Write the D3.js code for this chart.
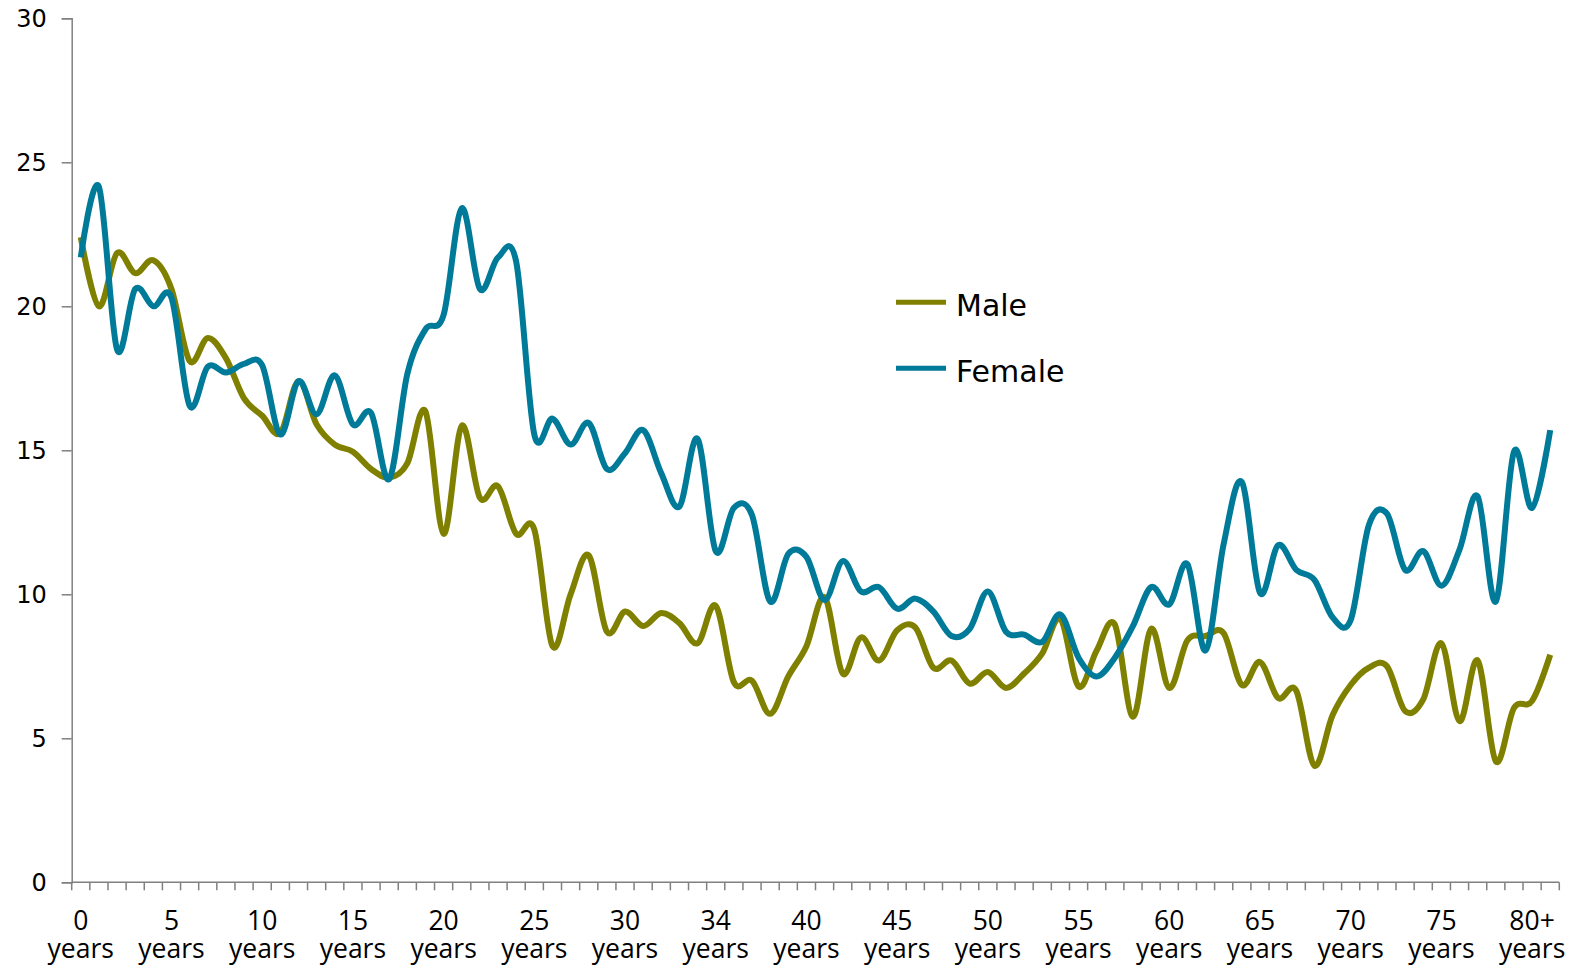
<!DOCTYPE html>
<html>
<head>
<meta charset="utf-8">
<script src="https://cdn.jsdelivr.net/npm/d3@7"></script>
<style>
  body { margin: 0; background: #fff; }
  .axis-y text { font-family: "DejaVu Sans", sans-serif; font-size: 24px; fill: #000; }
  .axis-x text { font-family: "Open Sans", sans-serif; font-size: 26.5px; fill: #000; }
  .legend text { font-family: "DejaVu Sans", sans-serif; font-size: 30px; fill: #000; }
</style>
</head>
<body>
<svg id="chart" width="1577" height="973"></svg>
<script>
// shown under every 5th category (the source labels the 35th one "34")
var tickLabels = ["0", "5", "10", "15", "20", "25", "30", "34", "40", "45",
                  "50", "55", "60", "65", "70", "75", "80+"];
var tickUnit = "years";

var male = [22.4, 20.0, 21.85, 21.15, 21.6, 20.6, 18.1, 18.9, 18.2, 16.8,
            16.2, 15.6, 17.4, 15.9, 15.2, 14.95, 14.35, 14.05, 14.55, 16.35,
            12.1, 15.85, 13.35, 13.75, 12.1, 12.25, 8.2, 10.0, 11.35, 8.7,
            9.4, 8.9, 9.35, 9.0, 8.3, 9.6, 6.95, 7.0, 5.85, 7.15,
            8.2, 9.9, 7.25, 8.5, 7.7, 8.75, 8.85, 7.45, 7.7, 6.9,
            7.3, 6.75, 7.25, 7.95, 9.15, 6.8, 8.05, 8.95, 5.75, 8.8,
            6.75, 8.4, 8.55, 8.65, 6.85, 7.65, 6.4, 6.65, 4.05, 5.8,
            6.85, 7.45, 7.5, 5.95, 6.35, 8.3, 5.6, 7.7, 4.2, 6.05,
            6.3, 7.9];

var female = [21.7, 24.15, 18.5, 20.6, 20.0, 20.3, 16.55, 17.9, 17.7, 18.0,
              17.95, 15.55, 17.4, 16.25, 17.6, 15.9, 16.3, 14.0, 17.65, 19.2,
              19.7, 23.4, 20.6, 21.7, 21.55, 15.55, 16.1, 15.2, 15.95, 14.35,
              14.9, 15.7, 14.2, 13.05, 15.4, 11.5, 13.0, 12.75, 9.75, 11.4,
              11.3, 9.8, 11.15, 10.1, 10.25, 9.5, 9.85, 9.4, 8.55, 8.8,
              10.1, 8.7, 8.6, 8.35, 9.3, 7.8, 7.15, 7.8, 8.9, 10.25,
              9.65, 11.05, 8.05, 11.75, 13.9, 10.05, 11.7, 10.85, 10.5, 9.2,
              9.1, 12.4, 12.8, 10.85, 11.5, 10.3, 11.55, 13.4, 9.75, 14.95,
              13.0, 15.7];

var seriesNames = ["Male", "Female"];
var seriesColors = ["#808000", "#007a99"];

(function () {

    var svg = d3.select("#chart"),
        plot = { left: 71.7, right: 1559.3, top: 18.3, bottom: 882.3 };

    var x = d3.scaleBand().domain(d3.range(male.length)).range([plot.left, plot.right]),
        y = d3.scaleLinear().domain([0, 30]).range([plot.bottom, plot.top]);

    function cx(i) { return x(i) + x.bandwidth() / 2; }

    // y axis
    var yAxis = svg.append("g")
        .attr("class", "axis-y")
        .attr("transform", "translate(" + plot.left + ",0)")
        .call(d3.axisLeft(y).tickValues([0, 5, 10, 15, 20, 25, 30]).tickSize(10).tickPadding(15));
    yAxis.select(".domain").attr("stroke", "#808080").attr("stroke-width", 1.5);
    yAxis.selectAll(".tick line").attr("stroke", "#808080").attr("stroke-width", 1.5);
    yAxis.selectAll(".tick text").attr("dy", "0.36em");

    // x axis: ticks between categories, labels every 5th
    var xg = svg.append("g").attr("class", "axis-x");
    xg.append("line")
        .attr("x1", plot.left).attr("x2", plot.right)
        .attr("y1", plot.bottom).attr("y2", plot.bottom)
        .attr("stroke", "#808080").attr("stroke-width", 1.5);
    xg.selectAll(".tk")
        .data(d3.range(male.length + 1))
        .enter().append("line")
        .attr("class", "tk")
        .attr("x1", function (d) { return d < male.length ? x(d) : plot.right; })
        .attr("x2", function (d) { return d < male.length ? x(d) : plot.right; })
        .attr("y1", plot.bottom).attr("y2", plot.bottom + 8)
        .attr("stroke", "#808080").attr("stroke-width", 1.5);

    var lab = xg.selectAll(".lab")
        .data(tickLabels)
        .enter().append("g")
        .attr("class", "lab")
        .attr("text-anchor", "middle")
        .attr("transform", function (d, i) { return "translate(" + cx(i * 5) + ",0)"; });
    lab.append("text").attr("y", 930).text(function (d) { return d; });
    lab.append("text").attr("y", 958).text(tickUnit);

    // lines
    var line = d3.line()
        .curve(d3.curveCardinal.tension(0))
        .x(function (d, i) { return cx(i); })
        .y(function (d) { return y(d); });

    [male, female].forEach(function (s, k) {
        svg.append("path")
            .datum(s)
            .attr("fill", "none")
            .attr("stroke", seriesColors[k])
            .attr("stroke-width", 6)
            .attr("stroke-linejoin", "round")
            .attr("d", line);
    });

    // legend
    var legend = svg.selectAll(".legend")
        .data(seriesNames)
        .enter().append("g")
        .attr("class", "legend")
        .attr("transform", function (d, i) { return "translate(896," + (302.3 + i * 66) + ")"; });
    legend.append("line")
        .attr("x1", 0).attr("x2", 50)
        .attr("stroke", function (d, i) { return seriesColors[i]; })
        .attr("stroke-width", 5);
    legend.append("text")
        .attr("x", 60).attr("y", 14)
        .text(function (d) { return d; });

})();
</script>
</body>
</html>
